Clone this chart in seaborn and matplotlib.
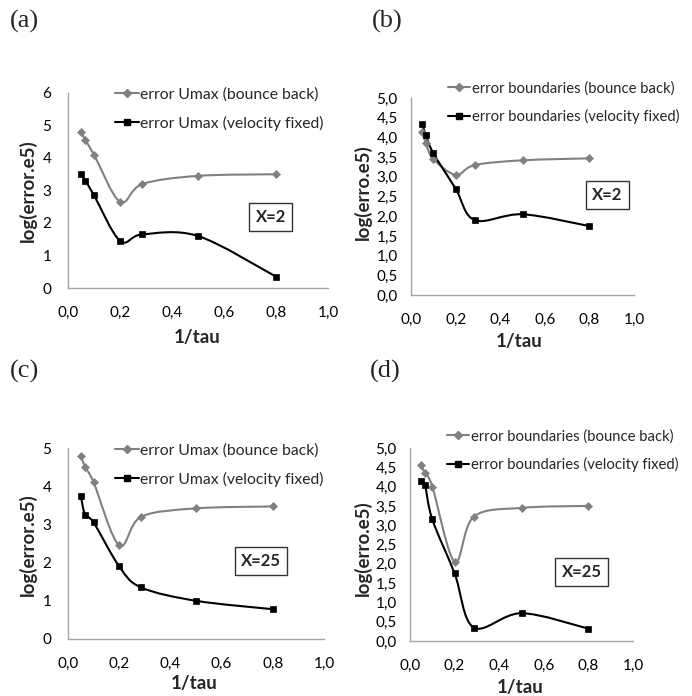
import numpy as np
import pandas as pd
import matplotlib
matplotlib.use("Agg")
import matplotlib.pyplot as plt
import seaborn as sns
from matplotlib.path import Path
from matplotlib.patches import PathPatch
from matplotlib.lines import Line2D

# ---------------- data ----------------
inv_tau = [0.05, 0.0667, 0.1, 0.2, 0.2857, 0.5, 0.8]

a_bounce = [4.80, 4.55, 4.10, 2.65, 3.20, 3.45, 3.50]
a_velocity = [3.50, 3.30, 2.85, 1.45, 1.65, 1.60, 0.35]

b_bounce = [4.15, 3.85, 3.45, 3.05, 3.30, 3.42, 3.47]
b_velocity = [4.35, 4.05, 3.60, 2.70, 1.90, 2.05, 1.75]

c_bounce = [4.80, 4.50, 4.10, 2.45, 3.20, 3.42, 3.47]
c_velocity = [3.75, 3.25, 3.05, 1.90, 1.35, 1.00, 0.78]

d_bounce = [4.55, 4.35, 4.00, 2.05, 3.22, 3.45, 3.50]
d_velocity = [4.15, 4.05, 3.15, 1.75, 0.35, 0.72, 0.32]

panel_labels = ["(a)", "(b)", "(c)", "(d)"]
legend_umax = ["error Umax (bounce back)", "error Umax (velocity fixed)"]
legend_bound = ["error boundaries (bounce back)", "error boundaries (velocity fixed)"]
box_texts = ["X=2", "X=2", "X=25", "X=25"]
ylabels = ["log(error.e5)", "log(erro.e5)", "log(error.e5)", "log(erro.e5)"]
xlabel = "1/tau"
xticks = [0.0, 0.2, 0.4, 0.6, 0.8, 1.0]

# ---------------- style ----------------
sns.set_theme(style="white")
plt.rcParams['font.family'] = ['Lato', 'DejaVu Sans']

GRAY = "#808080"
BLACK = "#000000"
AXC = "#a6a6a6"

fig = plt.figure(figsize=(6.92, 6.96), dpi=100)

def smooth_path(xs, ys):
    xs = np.asarray(xs, float); ys = np.asarray(ys, float)
    P = np.column_stack([xs, ys])
    n = len(P)
    verts = [P[0]]
    codes = [Path.MOVETO]
    for i in range(n - 1):
        p0 = P[i - 1] if i > 0 else P[i]
        p1 = P[i]
        p2 = P[i + 1]
        p3 = P[i + 2] if i + 2 < n else P[i + 1]
        c1 = p1 + (p2 - p0) / 6.0
        c2 = p2 - (p3 - p1) / 6.0
        verts += [c1, c2, p2]
        codes += [Path.CURVE4] * 3
    return Path(verts, codes)

def fmt(v, dec):
    return (f"{v:.{dec}f}").replace(".", ",")

panels = [
    dict(rect=[0.0983, 0.5862, 0.3757, 0.2802], bb=a_bounce, vf=a_velocity, ymax=6, ystep=1, ydec=0, ypad=12,
         leg=legend_umax, lfs=11.3, leg_xy=(118, 93), box=(0.78, 0.364), xl=(197, 337), yl=(28, 191)),
    dict(rect=[0.5940, 0.5761, 0.3222, 0.2830], bb=b_bounce, vf=b_velocity, ymax=5, ystep=0.5, ydec=1, ypad=9.5,
         leg=legend_bound, lfs=10.7, leg_xy=(451, 87), box=(0.881, 0.508), xl=(519, 341), yl=(363, 192)),
    dict(rect=[0.0983, 0.0819, 0.3699, 0.2744], bb=c_bounce, vf=c_velocity, ymax=5, ystep=1, ydec=0, ypad=12,
         leg=legend_umax, lfs=11.3, leg_xy=(118, 449), box=(0.754, 0.408), xl=(194, 683), yl=(28, 545)),
    dict(rect=[0.5925, 0.0790, 0.3223, 0.2773], bb=d_bounce, vf=d_velocity, ymax=5, ystep=0.5, ydec=1, ypad=9.5,
         leg=legend_bound, lfs=10.7, leg_xy=(450, 435), box=(0.769, 0.357), xl=(520, 687), yl=(363, 548)),
]
label_pos = [(10, 21), (372, 21), (10, 371), (370, 371)]

W, H = 692, 696
for k, p in enumerate(panels):
    ax = fig.add_axes(p["rect"])
    df = pd.DataFrame({"x": inv_tau, "bb": p["bb"], "vf": p["vf"]})
    for col, colr, mk, ms in [("bb", GRAY, "D", 4.3), ("vf", BLACK, "s", 5.0)]:
        path = smooth_path(df["x"], df[col])
        ax.add_patch(PathPatch(path, facecolor="none", edgecolor=colr, lw=1.5, zorder=2))
        sns.lineplot(data=df, x="x", y=col, ax=ax, linestyle="", marker=mk, markersize=ms,
                     color=colr, markeredgecolor=colr, markeredgewidth=0.5, zorder=3)
    ax.set_xlim(0, 1.0)
    ax.set_ylim(0, p["ymax"])
    yt = np.arange(0, p["ymax"] + 1e-9, p["ystep"])
    ax.set_yticks(yt)
    ax.set_yticklabels([fmt(v, p["ydec"]) for v in yt])
    ax.set_xticks(xticks)
    ax.set_xticklabels([fmt(v, 1) for v in xticks])
    ax.tick_params(axis="both", labelsize=11, length=0, colors="#000000")
    ax.tick_params(axis="x", pad=13)
    ax.tick_params(axis="y", pad=p["ypad"])
    for s in ["top", "right"]:
        ax.spines[s].set_visible(False)
    for s in ["left", "bottom"]:
        ax.spines[s].set_color(AXC)
        ax.spines[s].set_linewidth(1.0)
    ax.set_xlabel("")
    ax.set_ylabel("")
    ax.text(p["box"][0], p["box"][1], box_texts[k], transform=ax.transAxes, ha="center", va="center",
            fontsize=12, fontweight="bold",
            bbox=dict(boxstyle="square,pad=0.38", facecolor="white", edgecolor="#333333", lw=1.0))
    fig.text(p["xl"][0] / W, 1 - p["xl"][1] / H, xlabel, ha="center", va="center",
             fontsize=13.5, fontweight="bold")
    fig.text(p["yl"][0] / W, 1 - p["yl"][1] / H, ylabels[k], ha="center", va="center",
             rotation=90, fontsize=13.5, fontweight="bold")
    handles = [Line2D([], [], color=GRAY, marker="D", markersize=4.3, lw=1.5),
               Line2D([], [], color=BLACK, marker="s", markersize=5.0, lw=1.5)]
    lx, ly = p["leg_xy"]
    fig.legend(handles, p["leg"], loc="upper left",
               bbox_to_anchor=(lx / W - 0.013, 1 - ly / H + 0.017), frameon=False,
               fontsize=p["lfs"], handlelength=1.5, handletextpad=0.1, labelspacing=0.9,
               borderaxespad=0)
    fig.text(label_pos[k][0] / W, 1 - label_pos[k][1] / H, panel_labels[k], ha="left", va="center",
             fontsize=19, family=["Liberation Serif", "DejaVu Serif"])

fig.savefig("out.png", dpi=100)
